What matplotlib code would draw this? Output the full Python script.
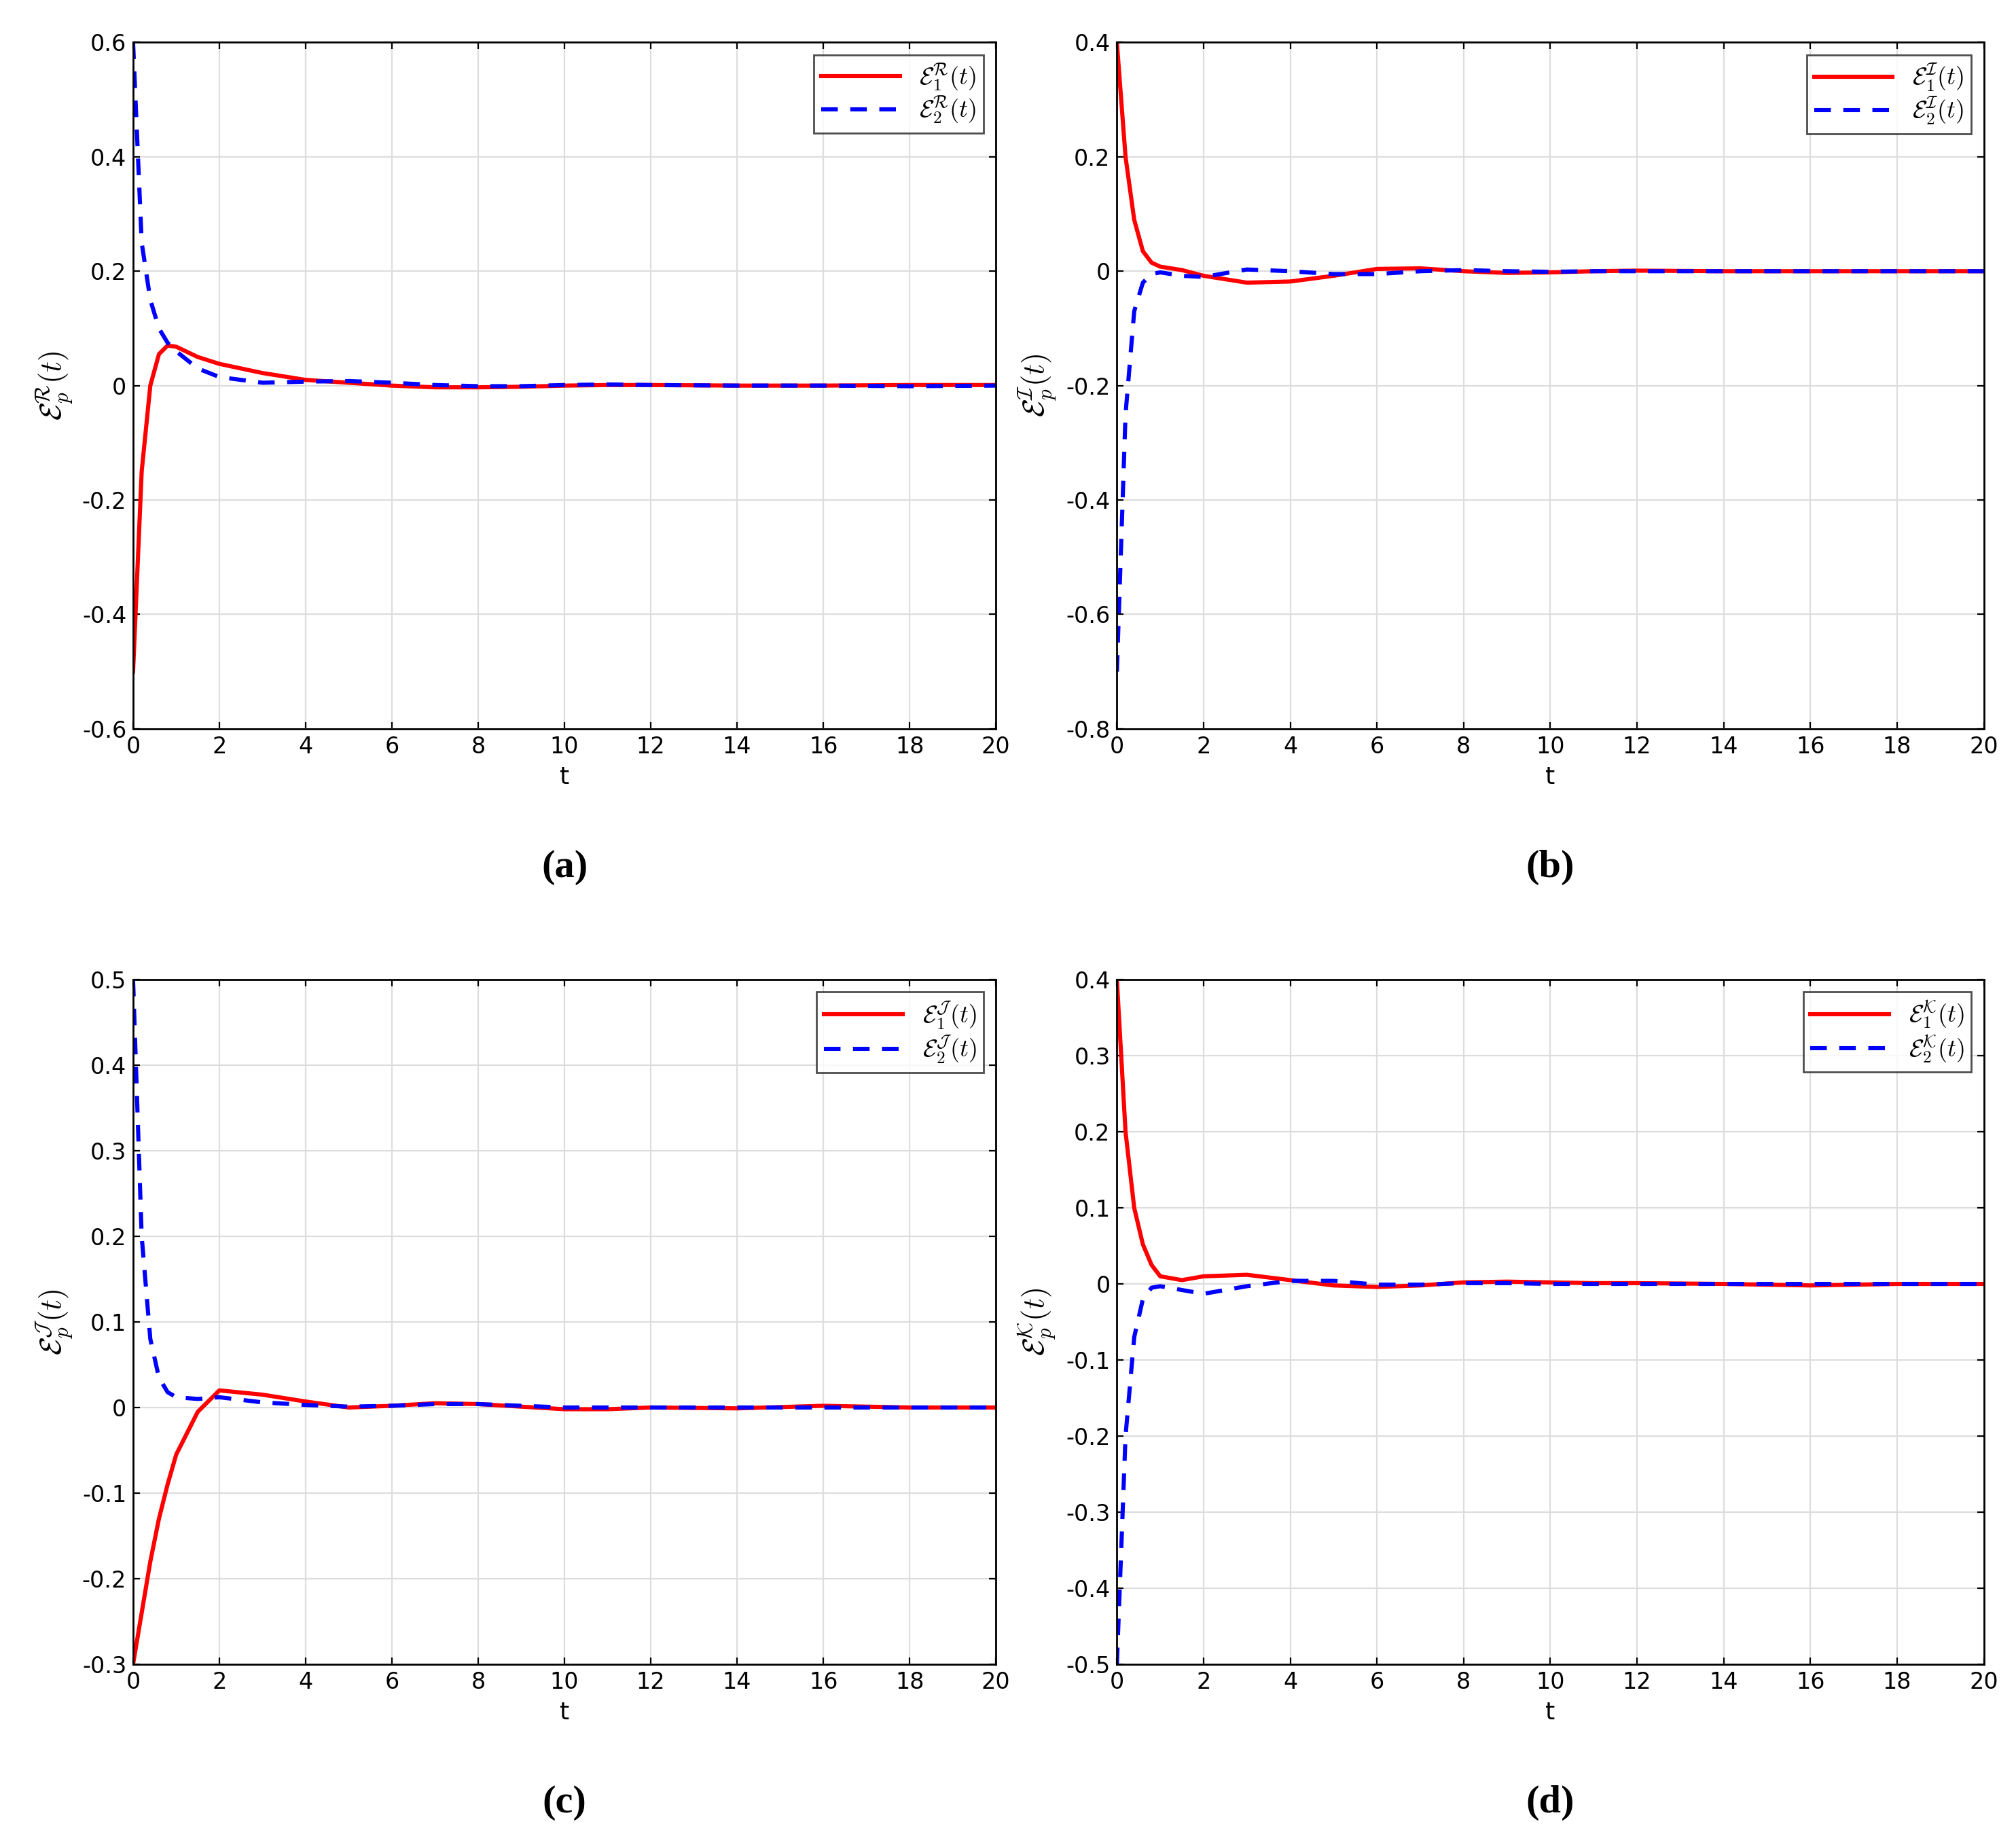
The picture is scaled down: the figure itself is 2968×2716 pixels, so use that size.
import matplotlib
matplotlib.use("Agg")
import numpy as np
from matplotlib import pyplot as plt

plt.rcParams["mathtext.fontset"] = "cm"

t = [0, 0.2, 0.4, 0.6, 0.8, 1, 1.5, 2, 3, 4, 5, 6, 7, 8, 9, 10, 11, 12, 14, 16, 18, 20]

r_a = [-0.5, -0.15, 0, 0.055, 0.07, 0.068, 0.05, 0.038, 0.022, 0.01, 0.005, 0, -0.003, -0.003, -0.002, 0, 0.001, 0.001, 0, 0, 0.001, 0.001]
b_a = [0.6, 0.25, 0.15, 0.1, 0.075, 0.06, 0.03, 0.015, 0.005, 0.007, 0.008, 0.005, 0.001, -0.001, -0.001, 0.001, 0.002, 0.001, 0, 0, -0.001, 0]
r_b = [0.4, 0.2, 0.09, 0.035, 0.015, 0.008, 0.002, -0.008, -0.02, -0.018, -0.008, 0.004, 0.005, 0, -0.003, -0.002, 0, 0.001, 0, 0, 0, 0]
b_b = [-0.7, -0.25, -0.07, -0.02, -0.005, -0.002, -0.008, -0.01, 0.003, 0, -0.005, -0.005, 0, 0.002, 0, -0.001, 0, 0, 0, 0, 0, 0]
r_c = [-0.3, -0.24, -0.18, -0.13, -0.09, -0.055, -0.005, 0.02, 0.015, 0.007, 0, 0.002, 0.005, 0.004, 0.001, -0.002, -0.002, 0, -0.001, 0.002, 0, 0]
b_c = [0.5, 0.2, 0.08, 0.035, 0.018, 0.012, 0.01, 0.012, 0.006, 0.003, 0.001, 0.002, 0.004, 0.004, 0.002, 0, 0, 0, 0, 0, 0, 0]
r_d = [0.4, 0.2, 0.1, 0.052, 0.025, 0.01, 0.005, 0.01, 0.012, 0.005, -0.002, -0.004, -0.002, 0.002, 0.003, 0.002, 0.001, 0.001, 0, -0.002, 0, 0]
b_d = [-0.5, -0.2, -0.07, -0.02, -0.005, -0.003, -0.008, -0.013, -0.003, 0.004, 0.004, -0.001, -0.001, 0.001, 0.001, 0, 0, 0, 0, 0, 0, 0]

panels = [
    ("a", r"\mathcal{R}", r_a, b_a, (-0.6, 0.6), np.arange(-0.6, 0.61, 0.2)),
    ("b", r"\mathcal{I}", r_b, b_b, (-0.8, 0.4), np.arange(-0.8, 0.41, 0.2)),
    ("c", r"\mathcal{J}", r_c, b_c, (-0.3, 0.5), np.arange(-0.3, 0.51, 0.1)),
    ("d", r"\mathcal{K}", r_d, b_d, (-0.5, 0.4), np.arange(-0.5, 0.41, 0.1)),
]
rects = [
    [0.066, 0.605, 0.428, 0.372],
    [0.554, 0.605, 0.430, 0.372],
    [0.066, 0.098, 0.428, 0.371],
    [0.554, 0.098, 0.430, 0.371],
]
label_y = [0.53, 0.53, 0.023, 0.023]

fig = plt.figure(figsize=(14.84, 13.58), dpi=200)
for (tag, sup, red, blue, ylim, yt), rect, ly in zip(panels, rects, label_y):
    ax = fig.add_axes(rect)
    ax.plot(t, red, color="red", lw=2.2, label=rf"$\mathcal{{E}}_1^{{{sup}}}(t)$")
    ax.plot(t, blue, color="blue", lw=2.2, ls=(0, (4, 3)), label=rf"$\mathcal{{E}}_2^{{{sup}}}(t)$")
    ax.set_xlim(0, 20)
    ax.set_ylim(*ylim)
    ax.set_xticks(range(0, 21, 2))
    yt = np.round(yt, 2) + 0.0
    ax.set_yticks(yt)
    ax.set_yticklabels([f"{v:g}".replace("-0", "-0") if abs(v) > 1e-9 else "0" for v in yt])
    ax.grid(True, color="#dddddd", lw=0.8)
    ax.tick_params(direction="in", labelsize=12, top=True, right=True)
    for s in ax.spines.values():
        s.set_linewidth(1.0)
    ax.set_xlabel("t", fontsize=13)
    ax.set_ylabel(rf"$\mathcal{{E}}_p^{{{sup}}}(t)$", fontsize=16)
    leg = ax.legend(loc="upper right", fontsize=13, fancybox=False, edgecolor="#222222",
                    handlelength=3.2, borderpad=0.3, labelspacing=0.1)
    leg.get_frame().set_linewidth(1.0)
    fig.text(rect[0] + rect[2] / 2, ly, f"({tag})", ha="center", va="center",
             fontsize=21, fontfamily="Liberation Serif", fontweight="bold")

fig.savefig("out.png")
